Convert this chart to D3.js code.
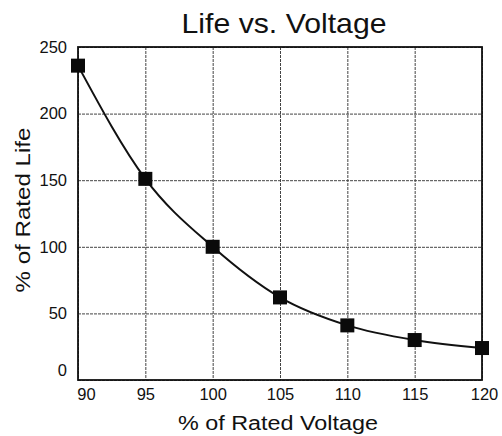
<!DOCTYPE html>
<html>
<head>
<meta charset="utf-8">
<script src="https://cdn.jsdelivr.net/npm/d3@7"></script>
<style>
  body { margin: 0; background: #fff; }
  svg { font-family: "Liberation Sans", Arial, sans-serif; }
</style>
</head>
<body>
<div id="vis1"></div>
<script>
// Chart values
const VOLTAGE = [90, 95, 100, 105, 110, 115, 120];
const LIFE = [236, 151, 100, 62, 41, 30, 24];
const X_TICKS = [90, 95, 100, 105, 110, 115, 120];
const Y_TICKS = [0, 50, 100, 150, 200, 250];

const FRAME_HEIGHT = 436;
const FRAME_WIDTH = 502;
const MARGINS = {left: 78, right: 20, top: 47, bottom: 56};
const VIS_HEIGHT = FRAME_HEIGHT - MARGINS.top - MARGINS.bottom;
const VIS_WIDTH = FRAME_WIDTH - MARGINS.left - MARGINS.right;

const FRAME1 = d3.select("#vis1")
                 .append("svg")
                 .attr("height", FRAME_HEIGHT)
                 .attr("width", FRAME_WIDTH);

const X_SCALE = d3.scaleLinear().domain([90, 120]).range([0, VIS_WIDTH]);
const Y_SCALE = d3.scaleLinear().domain([0, 250]).range([VIS_HEIGHT, 0]);

const VIS = FRAME1.append("g")
                  .attr("transform", "translate(" + MARGINS.left + "," + MARGINS.top + ")");

// grid lines
VIS.append("g")
   .call(d3.axisBottom(X_SCALE).tickValues(X_TICKS).tickSize(VIS_HEIGHT).tickFormat(""))
   .call(g => g.select(".domain").remove())
   .selectAll("line").attr("stroke", "#444").attr("stroke-width", 1).attr("stroke-dasharray", "3,1");

VIS.append("g")
   .call(d3.axisLeft(Y_SCALE).tickValues(Y_TICKS).tickSize(-VIS_WIDTH).tickFormat(""))
   .call(g => g.select(".domain").remove())
   .selectAll("line").attr("stroke", "#444").attr("stroke-width", 1).attr("stroke-dasharray", "3,1");

// frame
VIS.append("rect")
   .attr("width", VIS_WIDTH)
   .attr("height", VIS_HEIGHT)
   .attr("fill", "none")
   .attr("stroke", "#111")
   .attr("stroke-width", 1.8);

// tick labels
VIS.append("g")
   .attr("transform", "translate(0," + VIS_HEIGHT + ")")
   .call(d3.axisBottom(X_SCALE).tickValues(X_TICKS).tickSize(0).tickPadding(8))
   .call(g => g.select(".domain").remove())
   .selectAll("text").attr("font-size", "16.5px").attr("fill", "#111")
   .attr("font-family", "Liberation Sans, Arial, sans-serif")
   .attr("dx", d => d === 90 ? 8 : (d === 120 ? 2 : 0));

VIS.append("g")
   .call(d3.axisLeft(Y_SCALE).tickValues(Y_TICKS).tickSize(0).tickPadding(11))
   .call(g => g.select(".domain").remove())
   .selectAll("text").attr("font-size", "16.5px").attr("fill", "#111")
   .attr("font-family", "Liberation Sans, Arial, sans-serif")
   .attr("y", d => d === 0 ? -10 : 0);

// curve
const LINE = d3.line()
               .x((d, i) => X_SCALE(VOLTAGE[i]))
               .y(d => Y_SCALE(d))
               .curve(d3.curveMonotoneX);

VIS.append("path")
   .datum(LIFE)
   .attr("d", LINE)
   .attr("fill", "none")
   .attr("stroke", "#111")
   .attr("stroke-width", 2);

const SQ = 14;
VIS.selectAll(".pt")
   .data(LIFE)
   .enter()
   .append("rect")
   .attr("x", (d, i) => X_SCALE(VOLTAGE[i]) - SQ / 2)
   .attr("y", d => Y_SCALE(d) - SQ / 2)
   .attr("width", SQ)
   .attr("height", SQ)
   .attr("fill", "#0a0a0a");

// title and axis labels
FRAME1.append("text")
      .attr("x", 284)
      .attr("y", 33)
      .attr("text-anchor", "middle")
      .attr("font-size", "28px")
      .attr("fill", "#111")
      .attr("textLength", 205)
      .attr("lengthAdjust", "spacingAndGlyphs")
      .text("Life vs. Voltage");

FRAME1.append("text")
      .attr("x", 278)
      .attr("y", 430)
      .attr("text-anchor", "middle")
      .attr("font-size", "20px")
      .attr("fill", "#111")
      .attr("textLength", 200)
      .attr("lengthAdjust", "spacingAndGlyphs")
      .text("% of Rated Voltage");

FRAME1.append("text")
      .attr("transform", "translate(30,210) rotate(-90)")
      .attr("text-anchor", "middle")
      .attr("font-size", "20px")
      .attr("fill", "#111")
      .attr("textLength", 165)
      .attr("lengthAdjust", "spacingAndGlyphs")
      .text("% of Rated Life");
</script>
</body>
</html>
